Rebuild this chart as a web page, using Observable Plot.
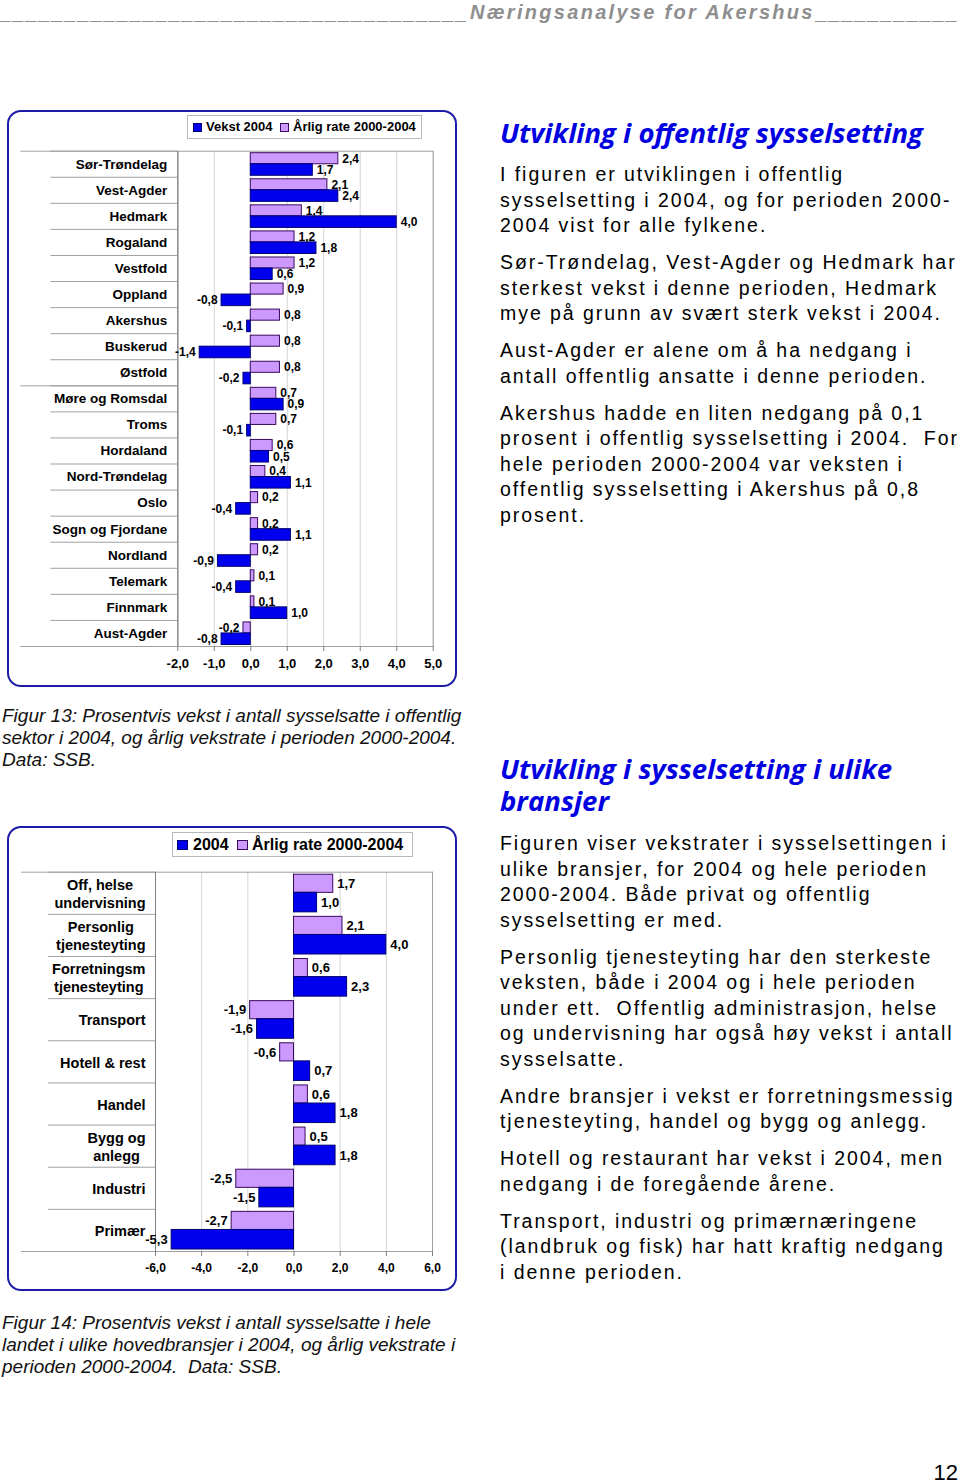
<!DOCTYPE html>
<html><head><meta charset="utf-8">
<script src="https://cdn.jsdelivr.net/npm/d3@7"></script>
<script src="https://cdn.jsdelivr.net/npm/@observablehq/plot@0.6"></script>
<style>
body{margin:0;width:960px;height:1483px;position:relative;background:#fff;overflow:hidden;font-family:"Liberation Sans",Arial,sans-serif;color:#000;}
.abs{position:absolute;}
.box{position:absolute;border:2px solid #1c1ca8;border-radius:14px;box-sizing:border-box;}
.legend{position:absolute;border:1px solid #b8b8b8;box-sizing:border-box;background:#fff;}
.legend .sw{position:absolute;box-sizing:border-box;}
.legend .lt{position:absolute;font-weight:bold;white-space:nowrap;}
.head{position:absolute;left:0;top:0;width:960px;height:30px;color:#8e8e8e;font-weight:bold;font-style:italic;font-size:20px;line-height:24px;white-space:nowrap;}
.head .u{position:absolute;top:0;letter-spacing:1.9px;}
.head .t{position:absolute;top:0;letter-spacing:2.3px;}
.h2{position:absolute;left:500px;font-family:"Open Sans","Noto Sans",sans-serif;font-weight:bold;font-style:italic;font-size:27.5px;line-height:32px;color:#0000e0;white-space:nowrap;}
.body{position:absolute;left:500px;font-size:19.5px;letter-spacing:1.95px;line-height:25.5px;white-space:pre;}
.body p{margin:0 0 11.5px 0;}
.cap{position:absolute;left:2px;font-style:italic;font-size:19px;line-height:22px;white-space:pre;color:#111;}
.chart{position:absolute;}
</style>
</head><body>
<div class="head">
  <span class="u" style="left:0;">____________________________________</span>
  <span class="t" style="left:470px;">Næringsanalyse for Akershus</span>
  <span class="u" style="left:816px;">___________</span>
</div>

<div class="box" style="left:7px;top:110px;width:450px;height:577px;"></div>
<div class="legend" style="left:187px;top:115px;width:235px;height:24px;">
  <div class="sw" style="left:5px;top:7px;width:9px;height:9px;background:#0000ee;border:1px solid #000070;"></div>
  <div class="lt" style="left:18px;top:0;line-height:22px;font-size:13px;" id="lg1a"></div>
  <div class="sw" style="left:92px;top:7px;width:9px;height:9px;background:#cc99ff;border:1px solid #3a0a5c;"></div>
  <div class="lt" style="left:105px;top:0;line-height:22px;font-size:13px;" id="lg1b"></div>
</div>
<div class="chart" id="c1" style="left:8px;top:111px;"></div>

<div class="cap" style="top:704.5px;">Figur 13: Prosentvis vekst i antall sysselsatte i offentlig
sektor i 2004, og årlig vekstrate i perioden 2000-2004.
Data: SSB.</div>

<div class="box" style="left:7px;top:826px;width:450px;height:465px;"></div>
<div class="legend" style="left:172px;top:832px;width:241px;height:25px;">
  <div class="sw" style="left:4px;top:7px;width:11px;height:10px;background:#0000ee;border:1px solid #000070;"></div>
  <div class="lt" style="left:20px;top:0;line-height:24px;font-size:16px;" id="lg2a"></div>
  <div class="sw" style="left:64px;top:7px;width:11px;height:10px;background:#cc99ff;border:1px solid #3a0a5c;"></div>
  <div class="lt" style="left:79px;top:0;line-height:24px;font-size:16px;" id="lg2b"></div>
</div>
<div class="chart" id="c2" style="left:8px;top:827px;"></div>

<div class="cap" style="top:1311.5px;">Figur 14: Prosentvis vekst i antall sysselsatte i hele
landet i ulike hovedbransjer i 2004, og årlig vekstrate i
perioden 2000-2004.  Data: SSB.</div>

<div class="h2" style="top:117px;">Utvikling i offentlig sysselsetting</div>
<div class="body" style="top:162px;"><p>I figuren er utviklingen i offentlig
sysselsetting i 2004, og for perioden 2000-
2004 vist for alle fylkene.</p><p>Sør-Trøndelag, Vest-Agder og Hedmark har
sterkest vekst i denne perioden, Hedmark
mye på grunn av svært sterk vekst i 2004.</p><p>Aust-Agder er alene om å ha nedgang i
antall offentlig ansatte i denne perioden.</p><p>Akershus hadde en liten nedgang på 0,1
prosent i offentlig sysselsetting i 2004.  For
hele perioden 2000-2004 var veksten i
offentlig sysselsetting i Akershus på 0,8
prosent.</p></div>

<div class="h2" style="top:753px;">Utvikling i sysselsetting i ulike</div>
<div class="h2" style="top:785px;">bransjer</div>
<div class="body" style="top:831px;"><p>Figuren viser vekstrater i sysselsettingen i
ulike bransjer, for 2004 og hele perioden
2000-2004. Både privat og offentlig
sysselsetting er med.</p><p>Personlig tjenesteyting har den sterkeste
veksten, både i 2004 og i hele perioden
under ett.  Offentlig administrasjon, helse
og undervisning har også høy vekst i antall
sysselsatte.</p><p>Andre bransjer i vekst er forretningsmessig
tjenesteyting, handel og bygg og anlegg.</p><p>Hotell og restaurant har vekst i 2004, men
nedgang i de foregående årene.</p><p>Transport, industri og primærnæringene
(landbruk og fisk) har hatt kraftig nedgang
i denne perioden.</p></div>

<div class="abs" style="right:2px;top:1462px;font-size:22px;line-height:22px;">12</div>

<script>
// ---------- Data: Figur 13 (fylker) ----------
const fylker = ["Sør-Trøndelag","Vest-Agder","Hedmark","Rogaland","Vestfold","Oppland","Akershus","Buskerud","Østfold","Møre og Romsdal","Troms","Hordaland","Nord-Trøndelag","Oslo","Sogn og Fjordane","Nordland","Telemark","Finnmark","Aust-Agder"];
const fylkerRate = [2.4,2.1,1.4,1.2,1.2,0.9,0.8,0.8,0.8,0.7,0.7,0.6,0.4,0.2,0.2,0.2,0.1,0.1,-0.2];
const fylkerVekst2004 = [1.7,2.4,4.0,1.8,0.6,-0.8,-0.1,-1.4,-0.2,0.9,-0.1,0.5,1.1,-0.4,1.1,-0.9,-0.4,1.0,-0.8];
const ticks1 = [-2,-1,0,1,2,3,4,5];
const legend1 = ["Vekst 2004","Årlig rate 2000-2004"];

// ---------- Data: Figur 14 (bransjer) ----------
const bransjer = ["Off, helse\nundervisning","Personlig\ntjenesteyting","Forretningsm\ntjenesteyting","Transport","Hotell & rest","Handel","Bygg og\nanlegg","Industri","Primær"];
const bransjerRate = [1.7,2.1,0.6,-1.9,-0.6,0.6,0.5,-2.5,-2.7];
const bransjer2004 = [1.0,4.0,2.3,-1.6,0.7,1.8,1.8,-1.5,-5.3];
const ticks2 = [-6,-4,-2,0,2,4,6];
const legend2 = ["2004","Årlig rate 2000-2004"];

document.getElementById("lg1a").textContent = legend1[0];
document.getElementById("lg1b").textContent = legend1[1];
document.getElementById("lg2a").textContent = legend2[0];
document.getElementById("lg2b").textContent = legend2[1];

const LAV = "#cc99ff", LAV_S = "#3a0a5c", BLUE = "#0000ee", BLUE_S = "#000070";
const fmt = v => (v < 0 ? "-" : "") + Math.abs(v).toFixed(1).replace(".", ",");

function barChart(o) {
  const rows = o.cats.map((c, i) => ({cat: c, rate: o.rate[i], v: o.v2004[i]}));
  const step = (o.height - o.mt - o.mb) / o.cats.length;
  const lab = (k, positive, dy) => Plot.text(rows.filter(r => positive ? r[k] >= 0 : r[k] < 0), {
    x: k, y: "cat", text: r => fmt(r[k]),
    textAnchor: positive ? "start" : "end", dx: positive ? o.labDx : -o.labDx, dy,
    fontSize: o.valueSize, fontWeight: "bold", fill: "#000"
  });
  const marks = [
    Plot.ruleX(o.ticks, {stroke: "#d4d4d4"}),
    Plot.frame({stroke: "#a0a0a0"}),
    Plot.ruleX([o.ticks[0]], {stroke: "#808080"}),
    Plot.barX(rows, {x: "rate", y: "cat", fill: LAV, stroke: LAV_S, insetTop: o.lavInset[0], insetBottom: o.lavInset[1]}),
    Plot.barX(rows, {x: "v", y: "cat", fill: BLUE, stroke: BLUE_S, insetTop: o.blueInset[0], insetBottom: o.blueInset[1]}),
    lab("rate", true, o.lavDy), lab("rate", false, o.lavDy),
    lab("v", true, o.blueDy), lab("v", false, o.blueDy),
    Plot.axisX({ticks: o.ticks, tickFormat: fmt, tickSize: 5, tickPadding: 7, fontSize: o.tickFont, fontWeight: "bold", stroke: "#808080", fill: "#000", label: null}),
    Plot.axisY({tickSize: o.sepShort, dy: -step / 2, tickFormat: () => "", stroke: "#a0a0a0", label: null}),
    Plot.axisY({ticks: o.longSeps, tickSize: o.sepLong, dy: -step / 2, tickFormat: () => "", stroke: "#a0a0a0", label: null}),
    Plot.axisY({ticks: [o.cats[o.cats.length - 1]], tickSize: o.sepLong, dy: step / 2, tickFormat: () => "", stroke: "#a0a0a0", label: null}),
    ...o.labelMarks
  ];
  return Plot.plot({
    width: o.width, height: o.height,
    marginLeft: o.ml, marginRight: o.mr, marginTop: o.mt, marginBottom: o.mb,
    x: {domain: [o.ticks[0], o.ticks[o.ticks.length - 1]], label: null},
    y: {domain: o.cats, padding: 0, round: false, label: null},
    style: {fontFamily: "'Liberation Sans', Arial, sans-serif", fontSize: "13px", color: "#000", background: "transparent", overflow: "visible"},
    marks
  });
}

// Chart 1
document.getElementById("c1").append(barChart({
  cats: fylker, rate: fylkerRate, v2004: fylkerVekst2004, ticks: ticks1,
  width: 448, height: 575, ml: 169.3, mr: 23.3, mt: 39.7, mb: 40,
  lavInset: [2, 13], blueInset: [13, 1.5], lavDy: -5.5, blueDy: 5.7,
  labDx: 4, valueSize: 12, tickFont: 13,
  sepShort: 127, sepLong: 157, longSeps: ["Sør-Trøndelag", "Møre og Romsdal"],
  labelMarks: [Plot.axisY({tickSize: 0, tickPadding: 10.5, fontSize: 13.5, fontWeight: "bold", fill: "#000", label: null})]
}));

// Chart 2: centred multi-line category labels, right-aligned as a block
const ctx = document.createElement("canvas").getContext("2d");
ctx.font = "bold 14.5px 'Liberation Sans'";
const labelMarks2 = bransjer.map(c => {
  const w = Math.max(...c.split("\n").map(s => ctx.measureText(s).width));
  return Plot.text([c], {y: d => d, text: d => d, frameAnchor: "left", textAnchor: "middle",
    dx: -(10 + w / 2), lineHeight: 1.24, fontSize: 14.5, fontWeight: "bold", fill: "#000"});
});
document.getElementById("c2").append(barChart({
  cats: bransjer, rate: bransjerRate, v2004: bransjer2004, ticks: ticks2,
  width: 448, height: 463, ml: 147, mr: 24, mt: 44.7, mb: 39,
  lavInset: [2.5, 21.5], blueInset: [20.6, 2], lavDy: -9.5, blueDy: 9.3,
  labDx: 4, valueSize: 13, tickFont: 12,
  sepShort: 107, sepLong: 134, longSeps: [bransjer[0]],
  labelMarks: labelMarks2
}));
</script>
</body></html>
